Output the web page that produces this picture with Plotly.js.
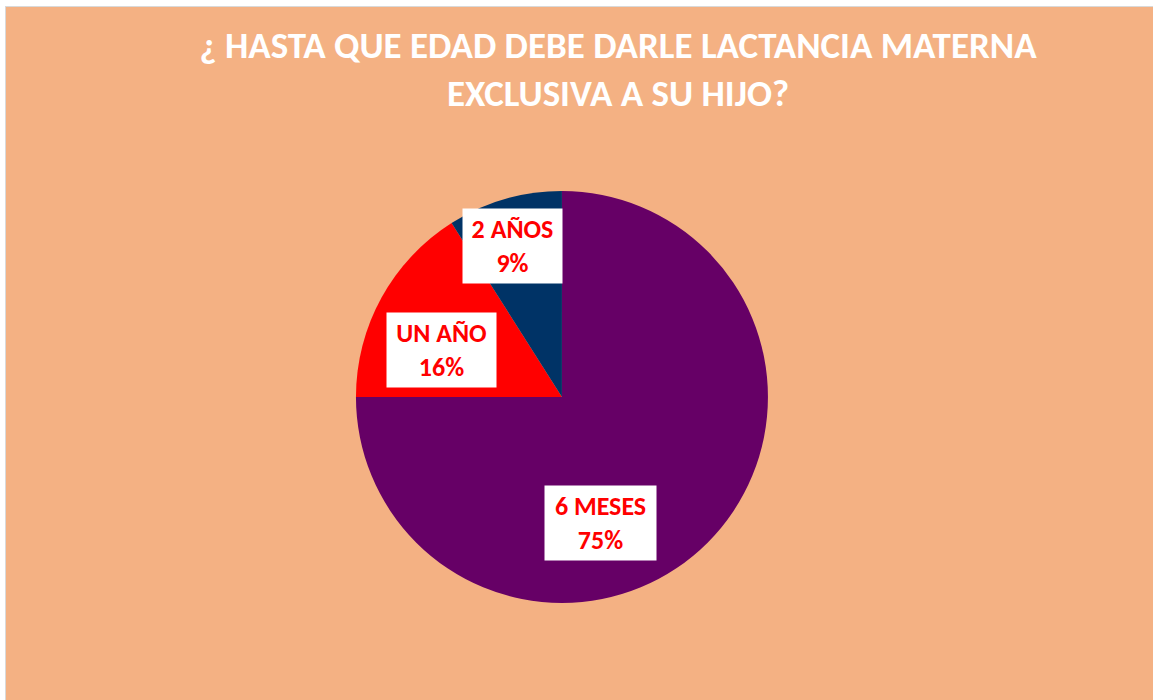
<!DOCTYPE html>
<html>
<head>
<meta charset="utf-8">
<script src="https://cdn.plot.ly/plotly-3.0.1.min.js"></script>
<style>
  html, body { margin: 0; padding: 0; background: #ffffff; width: 1153px; height: 700px; overflow: hidden; }
  #wrap { position: absolute; left: 5px; top: 6px; border-left: 1px solid #d9d9d9; border-top: 1px solid #d9d9d9; }
  #chart { width: 1147px; height: 693px; }
</style>
</head>
<body>
<div id="wrap"><div id="chart"></div></div>
<script>
const categories = ["6 MESES", "UN AÑO", "2 AÑOS"];
const values = [75, 16, 9];
const sliceColors = ["#660066", "#FF0000", "#003366"];
const chartTitle = "¿ HASTA QUE EDAD DEBE DARLE LACTANCIA MATERNA<br>EXCLUSIVA A SU HIJO?";

// label box placement (paper coords) and box widths, layout only
const labelPos = {
  "6 MESES": [0.518, 0.255],
  "UN AÑO": [0.380, 0.505],
  "2 AÑOS": [0.442, 0.655]
};
const labelBoxWidth = { "6 MESES": 107, "UN AÑO": 105, "2 AÑOS": 95 };

const total = values.reduce((a, b) => a + b, 0);
const FONT = "Carlito, Calibri, 'Liberation Sans', Arial, sans-serif";

const annotations = categories.map((c, i) => ({
  xref: "paper", yref: "paper",
  x: labelPos[c][0], y: labelPos[c][1],
  xanchor: "center", yanchor: "middle",
  showarrow: false,
  text: "<b>" + c + "</b><br><b>" + Math.round(values[i] / total * 100) + "%</b>",
  font: { family: FONT, size: 26, color: "#FF0000" },
  bgcolor: "#FFFFFF",
  borderpad: 2,
  width: labelBoxWidth[c],
  height: 70,
  align: "center",
  valign: "middle"
}));

const data = [{
  type: "pie",
  labels: categories,
  values: values,
  sort: false,
  direction: "clockwise",
  rotation: 0,
  textinfo: "none",
  marker: { colors: sliceColors, line: { width: 0 } },
  domain: { x: [0.3051, 0.6643], y: [0.140, 0.7345] },
  showlegend: false
}];

const layout = {
  width: 1147, height: 693,
  margin: { l: 0, r: 0, t: 0, b: 0 },
  paper_bgcolor: "#F4B183",
  plot_bgcolor: "#F4B183",
  showlegend: false,
  title: {
    text: "<b>" + chartTitle + "</b>",
    font: { family: FONT, size: 37, color: "#FFFFFF" },
    x: 0.5336, xanchor: "center", xref: "paper",
    y: 0.926, yanchor: "top", yref: "container"
  },
  annotations: annotations
};

Plotly.newPlot("chart", data, layout, { displayModeBar: false, responsive: false });
</script>
</body>
</html>
